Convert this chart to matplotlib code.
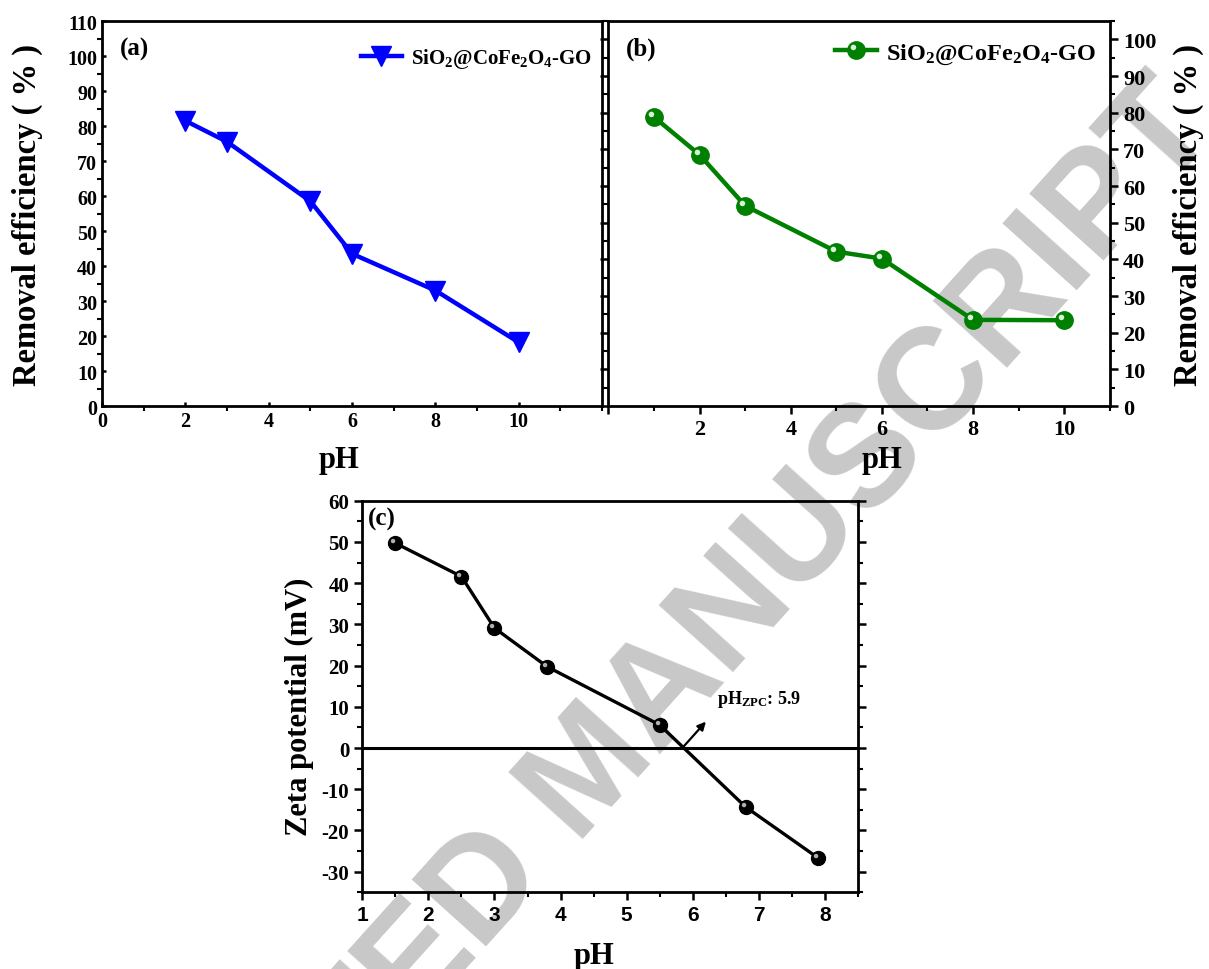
import matplotlib
matplotlib.use("Agg")
import matplotlib.pyplot as plt
from matplotlib.markers import MarkerStyle
from matplotlib.transforms import Affine2D
from matplotlib.legend_handler import HandlerTuple
from matplotlib.ticker import MultipleLocator

# ---------------- data ----------------
ph_a = [2, 3, 5, 6, 8, 10]
eff_a = [81.5, 75.5, 58.5, 43.5, 33.0, 18.2]

ph_b = [1, 2, 3, 5, 6, 8, 10]
eff_b = [78.8, 68.5, 54.6, 42.1, 40.2, 23.5, 23.4]

ph_c = [1.5, 2.5, 3.0, 3.8, 5.5, 6.8, 7.9]
zeta_c = [49.7, 41.6, 29.1, 19.7, 5.6, -14.3, -26.7]

series_label = r'SiO$_{2}$@CoFe$_{2}$O$_{4}$-GO'
ylabel_eff = 'Removal efficiency ( % )'
ylabel_zeta = 'Zeta potential (mV)'
xlabel_ph = 'pH'
zpc_text = r'pH$_{\mathrm{ZPC}}$: 5.9'
watermark = 'ACCEPTED MANUSCRIPT'

# ---------------- style ----------------
SERIF = 'Liberation Serif'
plt.rcParams['font.family'] = [SERIF, 'DejaVu Serif']
plt.rcParams['font.weight'] = 'bold'
plt.rcParams['mathtext.fontset'] = 'custom'
plt.rcParams['mathtext.rm'] = 'Liberation Serif:bold'
plt.rcParams['mathtext.bf'] = 'Liberation Serif:bold'
plt.rcParams['mathtext.it'] = 'Liberation Serif:bold'
plt.rcParams['axes.linewidth'] = 2.0
plt.rcParams['axes.unicode_minus'] = False

fig = plt.figure(figsize=(12.09, 9.70), dpi=100)

fig.text(0.490, 0.203, watermark, rotation=48, fontsize=104, color='#c8c8c8',
         fontweight='bold', family='Liberation Sans', ha='center', va='center',
         rotation_mode='anchor', zorder=-10)

def style_ticks(ax, size):
    ax.tick_params(which='major', length=6, width=1.8, labelsize=size)
    ax.tick_params(which='minor', length=3.5, width=1.5)

def sphere(ax, x, y, color, hl, ms, lw, label=None):
    base, = ax.plot(x, y, '-', color=color, lw=lw, marker='o', ms=ms,
                    mfc=color, mec=color, label=label, zorder=3)
    m = MarkerStyle('o', transform=Affine2D().translate(-0.55, 0.55))
    hlt, = ax.plot(x, y, linestyle='none', marker=m, ms=ms * 0.32,
                   mfc=hl, mec='none', zorder=4)
    return base, hlt

# ---------------- panel (a) ----------------
ax1 = fig.add_axes([0.0844, 0.5804, 0.4136, 0.3969])
ax1.set_facecolor('none')
ax1.plot(ph_a, eff_a, '-', color='#0000ff', lw=3.2, marker='v', ms=15,
         mfc='#0000ff', mec='#0000ff', label=series_label)
ax1.set_xlim(0, 12)
ax1.set_ylim(0, 110)
ax1.set_xticks(range(0, 11, 2))
ax1.xaxis.set_minor_locator(MultipleLocator(1))
ax1.set_yticks(range(0, 111, 10))
ax1.yaxis.set_minor_locator(MultipleLocator(5))
style_ticks(ax1, 14.5)
ax1.tick_params(top=True, which='major', direction='in', length=3)
ax1.tick_params(axis='x', which='major', top=False)
ax1.tick_params(axis='x', which='minor', top=False)
ax1.set_ylabel(ylabel_eff, fontsize=23.5, fontweight='bold')
ax1.yaxis.set_label_coords(-0.118, 0.5)
ax1.set_xlabel(xlabel_ph, fontsize=22, fontweight='bold')
ax1.xaxis.set_label_coords(0.474, -0.10)
ax1.text(0.035, 0.96, '(a)', transform=ax1.transAxes, fontsize=18,
         fontweight='bold', ha='left', va='top')
ax1.legend(loc='upper right', bbox_to_anchor=(0.996, 0.957), frameon=False,
           fontsize=15, numpoints=1, handlelength=2.0, handletextpad=0.4,
           borderaxespad=0)

# ---------------- panel (b) ----------------
ax2 = fig.add_axes([0.5033, 0.5804, 0.4146, 0.3969])
ax2.set_facecolor('none')
bb, bh = sphere(ax2, ph_b, eff_b, '#008000', '#d8f0d8', 12.5, 3.2,
                label=series_label)
ax2.set_xlim(0, 11)
ax2.set_ylim(0, 105)
ax2.set_xticks(range(0, 11, 2))
ax2.set_xticklabels(['', '2', '4', '6', '8', '10'])
ax2.xaxis.set_minor_locator(MultipleLocator(1))
ax2.set_yticks(range(0, 101, 10))
ax2.yaxis.set_minor_locator(MultipleLocator(5))
style_ticks(ax2, 16)
ax2.tick_params(axis='y', which='both', left=True, right=True,
                labelleft=False, labelright=True)
ax2.yaxis.set_label_position('right')
ax2.set_ylabel(ylabel_eff, fontsize=23.5, fontweight='bold')
ax2.yaxis.set_label_coords(1.126, 0.5)
ax2.set_xlabel(xlabel_ph, fontsize=22, fontweight='bold')
ax2.xaxis.set_label_coords(0.545, -0.10)
ax2.text(0.035, 0.96, '(b)', transform=ax2.transAxes, fontsize=18,
         fontweight='bold', ha='left', va='top')
ax2.legend([(bb, bh)], [series_label], handler_map={tuple: HandlerTuple(ndivide=1)},
           loc='upper right', bbox_to_anchor=(0.9926, 0.9717), frameon=False,
           fontsize=17.5, numpoints=1, handlelength=1.7, handletextpad=0.4,
           borderaxespad=0)

# ---------------- panel (c) ----------------
ax3 = fig.add_axes([0.2997, 0.0791, 0.4099, 0.4037])
ax3.set_facecolor('none')
ax3.axhline(0, color='k', lw=2.2, zorder=2)
sphere(ax3, ph_c, zeta_c, '#000000', '#b0b0b0', 10, 2.4)
ax3.set_xlim(1, 8.5)
ax3.set_ylim(-35, 60)
ax3.set_xticks(range(1, 9))
ax3.xaxis.set_minor_locator(MultipleLocator(0.5))
ax3.set_yticks(range(-30, 61, 10))
ax3.yaxis.set_minor_locator(MultipleLocator(5))
style_ticks(ax3, 15)
ax3.tick_params(axis='y', which='both', right=True)
for lab in ax3.get_xticklabels():
    lab.set_fontfamily(['Liberation Sans Narrow', 'Liberation Sans'])
    lab.set_fontweight('bold')
    lab.set_fontsize(15)
ax3.set_ylabel(ylabel_zeta, fontsize=22, fontweight='bold')
ax3.yaxis.set_label_coords(-0.0975, 0.476)
ax3.set_xlabel(xlabel_ph, fontsize=22, fontweight='bold')
ax3.xaxis.set_label_coords(0.4675, -0.125)
ax3.text(0.012, 0.985, '(c)', transform=ax3.transAxes, fontsize=18,
         fontweight='bold', ha='left', va='top')
ax3.annotate('', xy=(6.2, 6.4), xytext=(5.87, 0.5),
             arrowprops=dict(arrowstyle='-|>', lw=1.6, color='k',
                             mutation_scale=12, shrinkA=0, shrinkB=0))
ax3.text(6.36, 11.9, zpc_text, fontsize=13, fontweight='bold',
         ha='left', va='center')

fig.savefig('out.png', dpi=100)
